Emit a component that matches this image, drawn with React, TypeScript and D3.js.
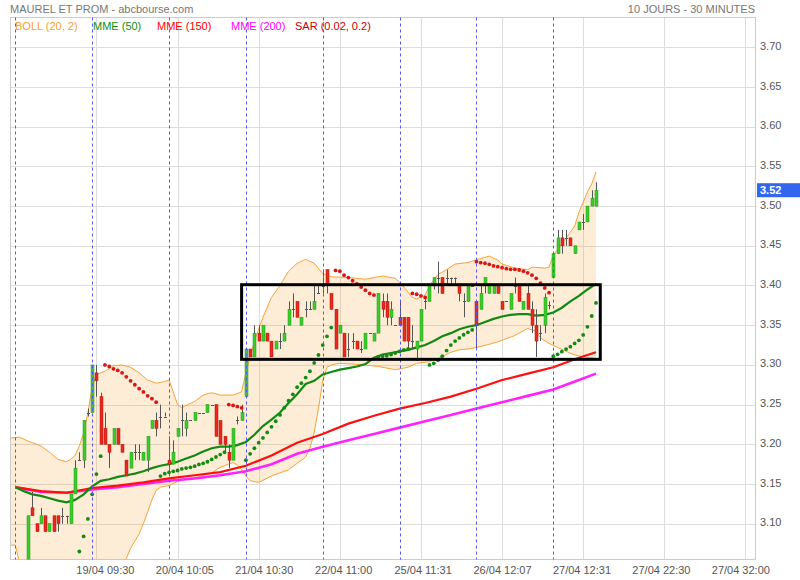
import * as d3 from "d3";

// first bar index: 09:00 of 19/04 is bar 0, one trading day = 18 bars of 30 minutes
const FIRST_BAR = -19;

// open, high, low, close
const candles: [number, number, number, number][] = [
  [3.045, 3.05, 3.035, 3.04], [3.04, 3.05, 3.03, 3.045], [3.045, 3.05, 3.035, 3.04], [3.04, 3.045, 3.03, 3.04],
  [3.04, 3.11, 3.035, 3.11], [3.12, 3.14, 3.11, 3.11], [3.10, 3.10, 3.09, 3.09], [3.10, 3.12, 3.10, 3.11],
  [3.11, 3.11, 3.09, 3.09], [3.09, 3.10, 3.09, 3.10], [3.11, 3.11, 3.09, 3.09], [3.11, 3.11, 3.09, 3.10],
  [3.11, 3.12, 3.10, 3.11], [3.11, 3.11, 3.10, 3.11], [3.10, 3.1375, 3.10, 3.1375], [3.1375, 3.18, 3.1375, 3.17],
  [3.18, 3.19, 3.18, 3.18], [3.18, 3.23, 3.17, 3.23], [3.24, 3.245, 3.235, 3.24],
  // 19/04
  [3.24, 3.30, 3.24, 3.30], [3.29, 3.30, 3.26, 3.28], [3.26, 3.265, 3.20, 3.20], [3.22, 3.24, 3.20, 3.20],
  [3.20, 3.20, 3.17, 3.19], [3.20, 3.22, 3.20, 3.22], [3.22, 3.22, 3.20, 3.20], [3.20, 3.20, 3.19, 3.19],
  [3.18, 3.18, 3.16, 3.16], [3.17, 3.19, 3.17, 3.19], [3.19, 3.20, 3.18, 3.19], [3.19, 3.20, 3.18, 3.19],
  [3.18, 3.19, 3.18, 3.19], [3.18, 3.21, 3.165, 3.21], [3.22, 3.23, 3.22, 3.23], [3.23, 3.24, 3.21, 3.22],
  [3.235, 3.25, 3.22, 3.235], [3.235, 3.24, 3.235, 3.235],
  // 20/04
  [3.18, 3.21, 3.165, 3.175], [3.175, 3.205, 3.175, 3.19], [3.21, 3.22, 3.21, 3.22], [3.23, 3.25, 3.21, 3.23],
  [3.22, 3.24, 3.21, 3.23], [3.23, 3.23, 3.23, 3.23], [3.23, 3.24, 3.23, 3.24], [3.24, 3.24, 3.24, 3.24],
  [3.24, 3.24, 3.24, 3.24], [3.24, 3.25, 3.24, 3.25], [3.25, 3.25, 3.25, 3.25], [3.25, 3.25, 3.21, 3.21],
  [3.23, 3.23, 3.20, 3.20], [3.21, 3.21, 3.19, 3.20], [3.19, 3.20, 3.17, 3.18], [3.18, 3.22, 3.18, 3.22],
  [3.23, 3.235, 3.225, 3.23], [3.23, 3.25, 3.23, 3.24],
  // 21/04
  [3.26, 3.32, 3.26, 3.32], [3.32, 3.32, 3.31, 3.31], [3.31, 3.35, 3.31, 3.34], [3.34, 3.35, 3.33, 3.33],
  [3.33, 3.35, 3.33, 3.35], [3.34, 3.34, 3.33, 3.33], [3.33, 3.33, 3.31, 3.31], [3.32, 3.33, 3.32, 3.33],
  [3.33, 3.34, 3.32, 3.33], [3.33, 3.35, 3.33, 3.34], [3.35, 3.38, 3.35, 3.37], [3.37, 3.39, 3.36, 3.37],
  [3.38, 3.38, 3.36, 3.36], [3.35, 3.36, 3.35, 3.36], [3.37, 3.38, 3.36, 3.37], [3.37, 3.38, 3.37, 3.37],
  [3.37, 3.40, 3.37, 3.38], [3.39, 3.40, 3.39, 3.39],
  // 22/04
  [3.40, 3.42, 3.39, 3.40], [3.42, 3.42, 3.39, 3.40], [3.39, 3.39, 3.37, 3.37], [3.37, 3.37, 3.32, 3.32],
  [3.34, 3.35, 3.34, 3.35], [3.34, 3.34, 3.31, 3.31], [3.32, 3.34, 3.31, 3.32], [3.33, 3.34, 3.32, 3.33],
  [3.33, 3.33, 3.32, 3.32], [3.32, 3.33, 3.315, 3.32], [3.32, 3.34, 3.32, 3.34], [3.34, 3.34, 3.34, 3.34],
  [3.33, 3.34, 3.33, 3.34], [3.34, 3.39, 3.34, 3.39], [3.38, 3.39, 3.36, 3.37], [3.38, 3.39, 3.35, 3.36],
  [3.36, 3.38, 3.35, 3.37], [3.35, 3.35, 3.35, 3.35],
  // 25/04
  [3.36, 3.38, 3.35, 3.35], [3.36, 3.36, 3.33, 3.33], [3.36, 3.36, 3.32, 3.33], [3.33, 3.35, 3.32, 3.33],
  [3.32, 3.33, 3.305, 3.33], [3.33, 3.37, 3.33, 3.37], [3.38, 3.385, 3.37, 3.38], [3.38, 3.40, 3.38, 3.40],
  [3.40, 3.41, 3.395, 3.41], [3.41, 3.43, 3.39, 3.41], [3.41, 3.41, 3.39, 3.39], [3.41, 3.42, 3.40, 3.41],
  [3.41, 3.41, 3.40, 3.41], [3.41, 3.41, 3.40, 3.41], [3.40, 3.40, 3.38, 3.39], [3.38, 3.39, 3.36, 3.38],
  [3.38, 3.40, 3.38, 3.40], [3.40, 3.40, 3.40, 3.40],
  // 26/04
  [3.38, 3.38, 3.32, 3.35], [3.37, 3.40, 3.37, 3.39], [3.40, 3.41, 3.39, 3.41], [3.39, 3.40, 3.39, 3.40],
  [3.39, 3.40, 3.39, 3.40], [3.40, 3.40, 3.39, 3.39], [3.38, 3.38, 3.37, 3.37], [3.38, 3.38, 3.38, 3.38],
  [3.37, 3.39, 3.37, 3.39], [3.40, 3.41, 3.39, 3.40], [3.40, 3.40, 3.38, 3.38], [3.37, 3.38, 3.37, 3.38],
  [3.39, 3.40, 3.37, 3.37], [3.37, 3.38, 3.34, 3.35], [3.35, 3.37, 3.31, 3.33], [3.34, 3.35, 3.33, 3.34],
  [3.35, 3.39, 3.34, 3.385], [3.375, 3.38, 3.37, 3.375],
  // 27/04
  [3.41, 3.44, 3.41, 3.44], [3.44, 3.47, 3.44, 3.46], [3.46, 3.47, 3.44, 3.45], [3.46, 3.47, 3.45, 3.46],
  [3.46, 3.46, 3.45, 3.45], [3.44, 3.45, 3.44, 3.45], [3.47, 3.48, 3.47, 3.48], [3.48, 3.49, 3.47, 3.48],
  [3.48, 3.50, 3.48, 3.50], [3.50, 3.52, 3.50, 3.51], [3.50, 3.53, 3.50, 3.52],
];

// [bar, value]
const bollUpper: [number, number][] = [
  [-19, 3.208], [-17, 3.209], [-15, 3.204], [-14, 3.202], [-12, 3.198], [-10, 3.19], [-8, 3.181], [-6, 3.178],
  [-5, 3.181], [-4, 3.186], [-3, 3.198], [-2, 3.214], [-1, 3.24], [0, 3.272], [1, 3.288], [3, 3.292], [5, 3.299],
  [7, 3.3], [9, 3.297], [11, 3.29], [13, 3.281], [15, 3.277], [17, 3.279], [18, 3.281], [19, 3.266], [20, 3.25],
  [21, 3.246], [22, 3.249], [24, 3.254], [26, 3.262], [28, 3.265], [30, 3.262], [33, 3.262], [35, 3.266],
  [36, 3.29], [37, 3.31], [38, 3.33], [40, 3.36], [42, 3.385], [44, 3.4], [46, 3.418], [48, 3.428], [50, 3.433],
  [52, 3.428], [54, 3.415], [56, 3.411], [60, 3.41], [64, 3.408], [68, 3.412], [71, 3.409], [73, 3.398],
  [75, 3.385], [76, 3.383], [78, 3.388], [79, 3.4], [81, 3.414], [83, 3.42], [85, 3.427], [88, 3.429],
  [91, 3.434], [93, 3.437], [95, 3.432], [96, 3.427], [99, 3.422], [102, 3.42], [103, 3.423], [106, 3.422],
  [107, 3.423], [108, 3.438], [110, 3.453], [112, 3.467], [113, 3.475], [114, 3.492], [116, 3.518],
  [117, 3.528], [118, 3.543],
];

const bollLower: [number, number][] = [
  [-19, 3.073], [-18, 3.073], [-17, 3.05], [-16, 3.02], [-14, 2.99], [-10, 2.97], [-6, 2.97], [-2, 2.98],
  [2, 3.0], [6, 3.04], [8, 3.056], [9, 3.069], [10, 3.078], [11, 3.087], [12, 3.1], [13, 3.115], [14, 3.13],
  [15, 3.142], [16, 3.146], [17, 3.147], [18, 3.148], [20, 3.153], [22, 3.156], [25, 3.159], [28, 3.164],
  [30, 3.171], [32, 3.175], [33, 3.177], [34, 3.174], [35, 3.168], [36, 3.16], [37, 3.154], [39, 3.152],
  [42, 3.16], [46, 3.168], [50, 3.184], [51, 3.195], [52, 3.215], [53, 3.245], [54, 3.28], [55, 3.297],
  [56, 3.3], [58, 3.302], [64, 3.3], [67, 3.298], [71, 3.294], [74, 3.297], [76, 3.302], [79, 3.304],
  [81, 3.308], [84, 3.316], [86, 3.319], [88, 3.32], [90, 3.322], [93, 3.326], [95, 3.329], [99, 3.337],
  [102, 3.346], [104, 3.342], [105, 3.334], [107, 3.327], [109, 3.322], [111, 3.317], [113, 3.3125],
  [115, 3.31], [117, 3.309], [118, 3.308],
];

const mme50: [number, number][] = [
  [-18, 3.146], [-16, 3.141], [-14, 3.137], [-12, 3.135], [-10, 3.132], [-8, 3.129], [-6, 3.127], [-4, 3.13],
  [-2, 3.137], [0, 3.147], [2, 3.154], [4, 3.156], [6, 3.159], [8, 3.161], [10, 3.163], [12, 3.166], [14, 3.17],
  [16, 3.173], [18, 3.175], [20, 3.178], [22, 3.182], [24, 3.186], [26, 3.191], [28, 3.195], [30, 3.197],
  [32, 3.197], [34, 3.199], [36, 3.203], [38, 3.212], [40, 3.223], [42, 3.231], [44, 3.24], [46, 3.252],
  [48, 3.263], [50, 3.276], [52, 3.28], [54, 3.288], [56, 3.291], [58, 3.294], [60, 3.296], [62, 3.298],
  [64, 3.301], [66, 3.309], [68, 3.313], [70, 3.315], [72, 3.317], [74, 3.319], [76, 3.322], [78, 3.325],
  [80, 3.33], [82, 3.336], [84, 3.34], [86, 3.345], [88, 3.348], [90, 3.35], [92, 3.354], [94, 3.358],
  [96, 3.361], [98, 3.363], [100, 3.364], [102, 3.364], [104, 3.362], [106, 3.363], [108, 3.366],
  [110, 3.372], [112, 3.38], [114, 3.387], [116, 3.395], [118, 3.402],
];

const mme150: [number, number][] = [
  [-18, 3.146], [-12, 3.141], [-6, 3.139], [0, 3.145], [6, 3.148], [12, 3.152], [18, 3.157], [24, 3.161],
  [30, 3.165], [36, 3.173], [42, 3.186], [48, 3.202], [54, 3.213], [60, 3.226], [66, 3.236], [72, 3.245],
  [78, 3.252], [84, 3.26], [90, 3.27], [96, 3.281], [102, 3.289], [108, 3.297], [114, 3.309], [118, 3.316],
];

const mme200: [number, number][] = [
  [-18, 3.146], [-12, 3.14], [-6, 3.139], [0, 3.143], [6, 3.146], [12, 3.15], [18, 3.154], [24, 3.157],
  [30, 3.161], [36, 3.166], [42, 3.175], [48, 3.188], [54, 3.197], [60, 3.205], [66, 3.213], [72, 3.221],
  [78, 3.229], [84, 3.237], [90, 3.245], [96, 3.253], [102, 3.261], [108, 3.269], [114, 3.281], [118, 3.289],
];

// parabolic SAR, below price (long) and above price (short)
const sarLong: [number, number][] = [
  [-3, 3.065], [-2, 3.084], [-1, 3.106], [0, 3.137], [1, 3.1625], [2, 3.185],
  [16, 3.16], [17, 3.163], [18, 3.1646], [19, 3.166], [20, 3.167], [21, 3.169], [22, 3.17], [23, 3.171],
  [24, 3.1725], [25, 3.1746], [26, 3.176], [27, 3.178], [28, 3.181], [29, 3.184], [30, 3.187], [31, 3.19],
  [36, 3.18], [37, 3.188], [38, 3.195], [39, 3.202], [40, 3.208], [41, 3.215], [42, 3.222], [43, 3.229],
  [44, 3.237], [45, 3.246], [46, 3.255], [47, 3.263], [48, 3.272], [49, 3.277], [50, 3.284], [51, 3.292],
  [52, 3.3025], [53, 3.3125], [54, 3.325], [55, 3.336], [56, 3.347],
  [67, 3.31], [68, 3.311], [69, 3.3115], [70, 3.313], [71, 3.315], [72, 3.317], [73, 3.319], [74, 3.32],
  [79, 3.3], [80, 3.302], [81, 3.306], [82, 3.311], [83, 3.318], [84, 3.325], [85, 3.33], [86, 3.334],
  [87, 3.338], [88, 3.341], [89, 3.344],
  [108, 3.311], [109, 3.3133], [110, 3.3166], [111, 3.3199], [112, 3.323], [113, 3.327], [114, 3.331],
  [115, 3.3377], [116, 3.348], [117, 3.3616], [118, 3.378],
];

const sarShort: [number, number][] = [
  [3, 3.3], [4, 3.298], [5, 3.295], [6, 3.293], [7, 3.29], [8, 3.285], [9, 3.28], [10, 3.275], [11, 3.27],
  [12, 3.266], [13, 3.261], [14, 3.2575], [15, 3.253],
  [32, 3.25], [33, 3.249], [34, 3.2475], [35, 3.246],
  [57, 3.419], [58, 3.418], [59, 3.413], [60, 3.41], [61, 3.406], [62, 3.402], [63, 3.398], [64, 3.394],
  [65, 3.39], [66, 3.388],
  [75, 3.39], [76, 3.389], [77, 3.387], [78, 3.385],
  [90, 3.43], [91, 3.4287], [92, 3.428], [93, 3.4267], [94, 3.4246], [95, 3.4237], [96, 3.4224],
  [97, 3.4212], [98, 3.4204], [99, 3.4204], [100, 3.4195], [101, 3.418], [102, 3.416], [103, 3.413],
  [104, 3.409], [105, 3.403], [106, 3.397], [107, 3.391],
];

const timeLabels = [
  "19/04 09:30", "20/04 10:05", "21/04 10:30", "22/04 11:00", "25/04 11:31",
  "26/04 12:07", "27/04 12:31", "27/04 22:30", "27/04 32:00",
];

const legend = [
  {label: "BOLL (20, 2)", color: "#f5a030"},
  {label: "MME (50)", color: "#109010"},
  {label: "MME (150)", color: "#ff0000"},
  {label: "MME (200)", color: "#ff00ff"},
  {label: "SAR (0.02, 0.2)", color: "#cc0000"},
];
const legendX = [15, 93, 157, 231, 295];

const lastPrice = 3.52;
const boxBars = [35, 119];
const boxPrices = [3.307, 3.401];

const W = 800, H = 580;
const plot = {left: 10.5, top: 17.5, right: 755.5, bottom: 559.5};
const font = "Arial, 'Liberation Sans', Helvetica, sans-serif";

export default function App() {
  const x = d3.scaleLinear().domain([-18, 108]).range([15.3, 553.3]);
  const y = d3.scaleLinear().domain([3.10, 3.70]).range([523.7, 47.3]);

  const priceTicks = d3.range(0, 13).map((k) => 3.10 + k * 0.05);
  const gridBars = timeLabels.map((_, k) => 1 + k * 19);
  const dayBars = d3.range(0, 8).map((k) => -18 + k * 18);

  const line = d3.line<[number, number]>()
    .x((d) => x(d[0]))
    .y((d) => y(d[1]));

  const bandPts = bollUpper.concat(bollLower.slice().reverse());
  const bandPath = line(bandPts) + "Z";

  const fmt = d3.format(".2f");

  return (
    <svg width={W} height={H} style={{position: "absolute", left: 0, top: 0, background: "#fff"}}
         fontFamily={font}>
      <defs>
        <clipPath id="plot-clip">
          <rect x={plot.left} y={plot.top} width={plot.right - plot.left} height={plot.bottom - plot.top}/>
        </clipPath>
      </defs>
      <rect x={0} y={0} width={W} height={H} fill="#fff"/>

      <text x={10} y={12.5} fontSize={11} fill="#777">MAUREL ET PROM - abcbourse.com</text>
      <text x={755} y={12.5} fontSize={11} fill="#777" textAnchor="end">10 JOURS - 30 MINUTES</text>

      {/* grid */}
      <g stroke="#dddddd" strokeWidth={1}>
        {priceTicks.map((p) => (
          <line key={"h" + p} x1={plot.left} x2={plot.right} y1={Math.round(y(p)) + 0.5} y2={Math.round(y(p)) + 0.5}/>
        ))}
        {gridBars.map((b) => (
          <line key={"v" + b} x1={Math.round(x(b)) + 0.5} x2={Math.round(x(b)) + 0.5} y1={plot.top} y2={plot.bottom}/>
        ))}
      </g>
      <rect x={plot.left} y={plot.top} width={plot.right - plot.left} height={plot.bottom - plot.top}
            fill="none" stroke="#cccccc"/>

      <g clipPath="url(#plot-clip)">
        <path d={bandPath} fill="#f5a030" fillOpacity={0.2} stroke="none"/>
        <path d={line(bollUpper)!} fill="none" stroke="#f7a23a" strokeWidth={1}/>
        <path d={line(bollLower)!} fill="none" stroke="#f7a23a" strokeWidth={1}/>

        <path d={line(mme200)!} fill="none" stroke="#ff22ff" strokeWidth={2.6}/>
        <path d={line(mme150)!} fill="none" stroke="#ff1010" strokeWidth={2.2}/>
        <path d={line(mme50)!} fill="none" stroke="#128a12" strokeWidth={2.2}/>

        {candles.map(([o, h, l, c], k) => {
          const bar = FIRST_BAR + k;
          const cx = Math.round(x(bar));
          const wx = cx + 0.5;
          if (o === c) {
            return (
              <g key={bar} stroke="#555">
                <line x1={wx} x2={wx} y1={y(h)} y2={y(l)}/>
                <line x1={cx - 1} x2={cx + 2} y1={Math.round(y(o)) + 0.5} y2={Math.round(y(o)) + 0.5}/>
              </g>
            );
          }
          const up = c > o;
          const top = y(Math.max(o, c));
          const bot = y(Math.min(o, c));
          return (
            <g key={bar}>
              <line x1={wx} x2={wx} y1={y(h)} y2={y(l)} stroke="#555"/>
              <rect x={cx - 1} y={top} width={3} height={Math.max(1, bot - top)}
                    fill={up ? "#3ccc2a" : "#e8291c"} stroke={up ? "#1f9a1f" : "#b01a10"} strokeWidth={0.5}/>
            </g>
          );
        })}

        {sarLong.map(([b, v]) => (
          <circle key={"sl" + b} cx={x(b)} cy={y(v)} r={1.9} fill="#138a13"/>
        ))}
        {sarShort.map(([b, v]) => (
          <circle key={"ss" + b} cx={x(b)} cy={y(v)} r={1.9} fill="#d91515"/>
        ))}
      </g>

      {/* day separators */}
      <g stroke="#5555ff" strokeWidth={1} strokeDasharray="3,3">
        {dayBars.map((b) => (
          <line key={"d" + b} x1={Math.round(x(b)) + 0.5} x2={Math.round(x(b)) + 0.5} y1={plot.top} y2={plot.bottom}/>
        ))}
      </g>

      {/* legend */}
      {legend.map((d, k) => (
        <text key={d.label} x={legendX[k]} y={29.5} fontSize={11} fill={d.color}>{d.label}</text>
      ))}

      {/* highlighted range */}
      <rect x={x(boxBars[0])} y={y(boxPrices[1])} width={x(boxBars[1]) - x(boxBars[0])}
            height={y(boxPrices[0]) - y(boxPrices[1])} fill="none" stroke="#000" strokeWidth={3}/>

      {/* price axis */}
      {priceTicks.map((p) => (
        <text key={"t" + p} x={760} y={y(p) + 2.5} fontSize={11} fill="#555">{fmt(p)}</text>
      ))}
      <rect x={757} y={y(lastPrice) - 7} width={43} height={14} fill="#3366ee"/>
      <text x={760} y={y(lastPrice) + 4} fontSize={11} fill="#fff" fontWeight="bold">{fmt(lastPrice)}</text>

      {/* time axis */}
      {timeLabels.map((t, k) => (
        <text key={t} x={x(gridBars[k]) + 9 - k * 1.7} y={574} fontSize={11} fill="#555" textAnchor="middle">{t}</text>
      ))}
    </svg>
  );
}
